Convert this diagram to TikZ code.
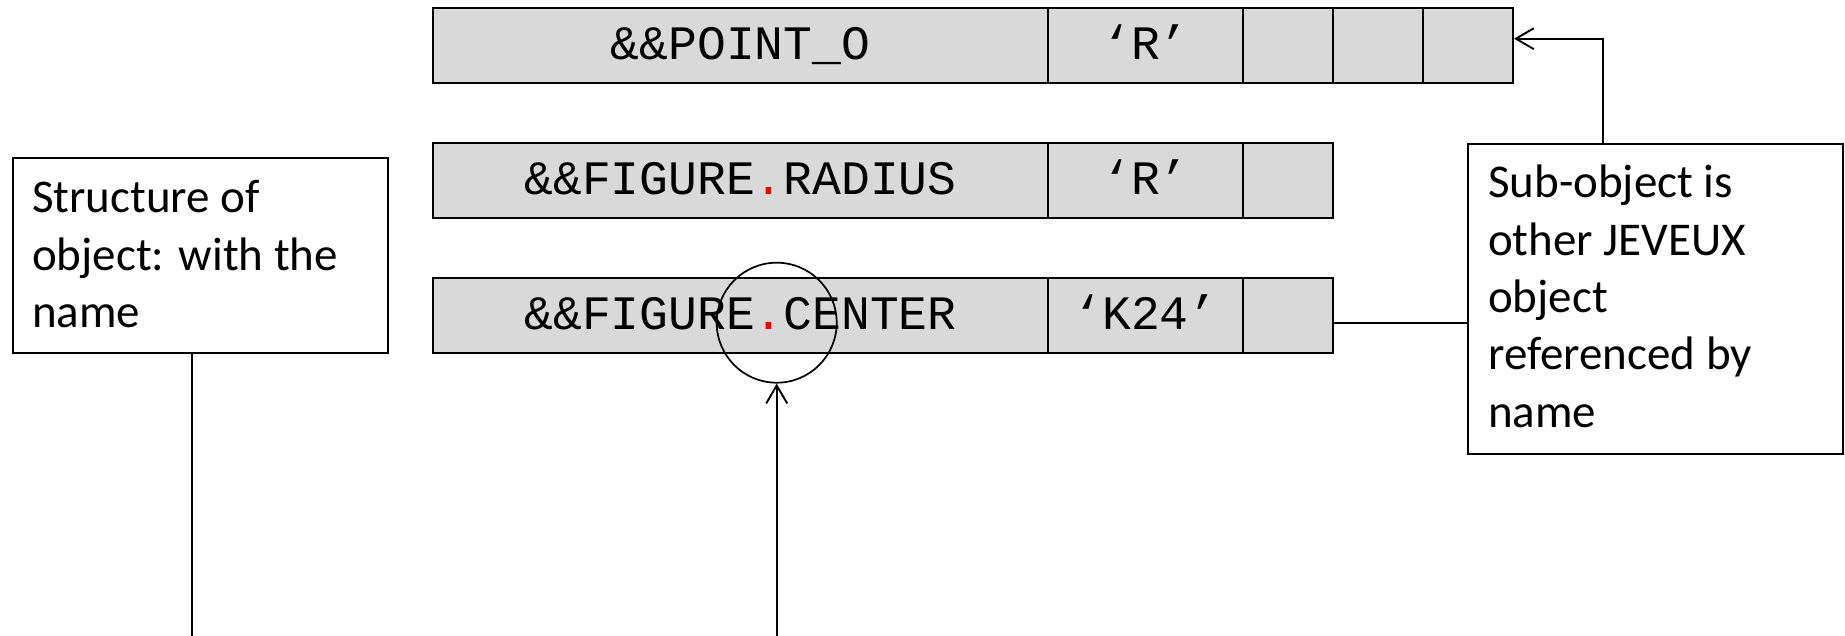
\documentclass[tikz,border=0pt]{standalone}
\usepackage{fontspec}
\newfontfamily\notefont{Carlito}
\newfontfamily\cellfont{Liberation Mono}
\usetikzlibrary{arrows.meta}
\definecolor{cellgray}{HTML}{D9D9D9}
\definecolor{dotred}{HTML}{FF0000}
\tikzset{
  cell/.style={draw=black, fill=cellgray, line width=2pt, anchor=north west,
    minimum height=75pt, inner sep=0pt, text height=27pt, text depth=0pt,
    font={\cellfont\fontsize{48}{50}\selectfont}},
  notebox/.style={draw=black, line width=2pt, anchor=north west, inner sep=0pt},
  notetext/.style={anchor=base west, inner sep=0pt,
    font={\notefont\fontsize{47}{57.3}\selectfont}},
  ring/.style={circle, draw=black, line width=1.7pt, minimum size=120pt, inner sep=0pt},
  wire/.style={draw=black, line width=1.9pt},
  barb/.style={-{Straight Barb[length=18pt,width=21pt]}}
}
\newcommand{\rdot}{{\color{dotred}.}}
\begin{document}
\begin{tikzpicture}[x=1pt,y=-1pt]
\fill[white] (0,0) rectangle (1845,636);
\useasboundingbox (0,0) rectangle (1845,636);

% descriptor rows
\node[cell, minimum width=615pt] (r1a) at (432,7.5) {\&\&POINT\_O};
\node[cell, minimum width=195pt] (r1b) at (1047,7.5) {‘R’};
\node[cell, minimum width=90pt] (r1c) at (1242,7.5) {};
\node[cell, minimum width=90pt] (r1d) at (1332,7.5) {};
\node[cell, minimum width=90pt] (r1e) at (1422,7.5) {};

\node[cell, minimum width=615pt] (r2a) at (432,142.5) {\&\&FIGURE\rdot RADIUS};
\node[cell, minimum width=195pt] (r2b) at (1047,142.5) {‘R’};
\node[cell, minimum width=90pt] (r2c) at (1242,142.5) {};

\node[cell, minimum width=615pt] (r3a) at (432,277.5) {\&\&FIGURE\rdot CENTER};
\node[cell, minimum width=195pt] (r3b) at (1047,277.5) {‘K24’};
\node[cell, minimum width=90pt] (r3c) at (1242,277.5) {};

% note boxes
\node[notebox, minimum width=375pt, minimum height=195pt] (lbox) at (11.7,157) {};
\node[notetext] (ltext) at (32,213)
  {\parbox[t]{340pt}{\raggedright Structure of\\object: with the\\name}};

\node[notebox, minimum width=375pt, minimum height=310pt] (rbox) at (1466.7,142.7) {};
\node[notetext] (rtext) at (1488,198)
  {\parbox[t]{340pt}{\raggedright Sub-object is\\other JEVEUX\\object\\referenced by\\name}};

% separator marker
\node[ring] (ring) at (776.7,322.7) {};

% connectors
\coordinate (lfoot) at (191.7,636);
\coordinate (ringfoot) at (776.7,636);
\draw[wire] (lbox.south -| lfoot) -- (lfoot);
\draw[wire, barb] (ringfoot) -- (ring.south);
\draw[wire] ([yshift=-7pt]r3c.east) -- ([yshift=-7pt]r3c.east -| rbox.west);
\draw[wire, barb] ([xshift=-52.2pt]rbox.north) |- ([yshift=7.3pt]r1e.east);
\end{tikzpicture}
\end{document}
